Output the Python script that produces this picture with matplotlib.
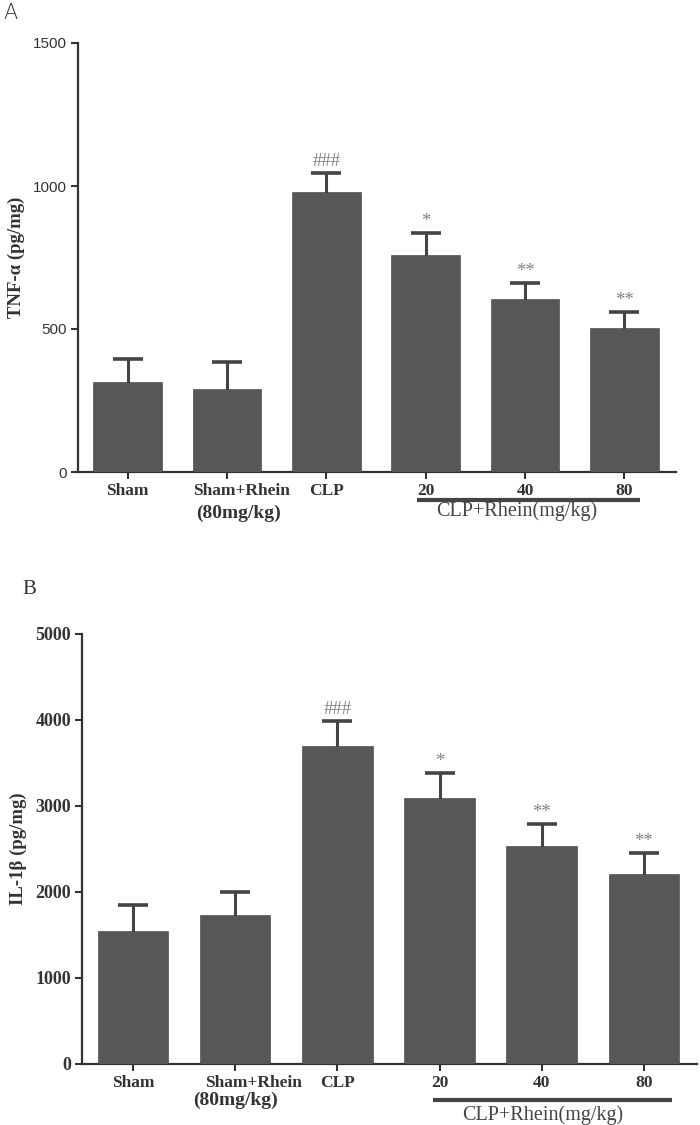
import numpy as np
import matplotlib
matplotlib.use("Agg")
import matplotlib.pyplot as plt
import matplotlib.transforms as mtransforms

# group labels
groups = ["Sham", "Sham+Rhein", "CLP", "20", "40", "80"]

# panel A: TNF-alpha
tnf_mean = [315, 290, 979, 759, 605, 503]
tnf_err = [80, 95, 66, 77, 56, 56]
tnf_marks = ["", "", "###", "*", "**", "**"]
tnf_ticks = [0, 500, 1000, 1500]

# panel B: IL-1beta
il_mean = [1547, 1733, 3698, 3093, 2535, 2209]
il_err = [302, 267, 290, 291, 256, 244]
il_marks = ["", "", "###", "*", "**", "**"]
il_ticks = [0, 1000, 2000, 3000, 4000, 5000]

BAR = "#575757"
DARK = "#3a3a3a"
SERIF = "Liberation Serif"
SANS = "Liberation Sans"

fig = plt.figure(figsize=(7, 11.25), dpi=100)


def draw_panel(ax, means, errs, marks, yticks, ylabel, tick_font, tick_weight,
               tick_size, sub_pos, brk_y, brk_x, brk_text, shift_px, mark_gap):
    x = np.arange(len(groups))
    ax.bar(x, means, width=0.69, color=BAR, edgecolor=DARK, linewidth=0.4, zorder=3)
    # symmetric bars drawn under the columns, so only the upper half shows
    ax.errorbar(x, means, yerr=errs, fmt="none", ecolor="#444444",
                elinewidth=2.2, capsize=10.5, capthick=2.6, zorder=2)
    for xi, m, e, s in zip(x, means, errs, marks):
        if s:
            ax.annotate(s, (xi, m + e), xytext=(0, mark_gap), textcoords="offset points",
                        ha="center", va="bottom", fontsize=13.5, color="#808080",
                        family=SERIF)
    ax.set_xlim(-0.5, 5.52)
    ax.set_ylim(0, yticks[-1])
    ax.set_yticks(yticks)
    ax.set_yticklabels([str(t) for t in yticks], family=tick_font,
                       fontweight=tick_weight, fontsize=tick_size, color="#333333")
    ax.set_xticks(x)
    labels = list(groups)
    labels[1] = ""
    ax.set_xticklabels(labels, family=SERIF, fontweight="bold", fontsize=12.5,
                       color="#333333")
    for s in ["top", "right"]:
        ax.spines[s].set_visible(False)
    for s in ["left", "bottom"]:
        ax.spines[s].set_linewidth(1.6)
        ax.spines[s].set_color("#333333")
    ax.tick_params(axis="both", length=5, width=1.5, color="#333333", pad=3)
    ax.set_ylabel(ylabel, family=SERIF, fontweight="bold", fontsize=13.5,
                  color="#333333", labelpad=6)

    # second label sits a little right of its tick
    off = mtransforms.offset_copy(ax.get_xaxis_transform(), fig=fig,
                                  x=shift_px, y=-11, units="dots")
    ax.text(1, 0, "Sham+Rhein", transform=off, ha="center", va="top",
            family=SERIF, fontweight="bold", fontsize=12.5, color="#333333",
            clip_on=False)
    ax.text(sub_pos[0], sub_pos[1], "(80mg/kg)", transform=ax.get_xaxis_transform(),
            ha="center", va="center", family=SERIF, fontweight="bold",
            fontsize=14, color="#333333", clip_on=False)
    ax.plot(brk_x, [brk_y, brk_y], transform=ax.get_xaxis_transform(),
            color="#444444", lw=3, clip_on=False, solid_capstyle="butt")
    ax.text(brk_text[0], brk_text[1], "CLP+Rhein(mg/kg)",
            transform=ax.get_xaxis_transform(), ha="center", va="center",
            family=SERIF, fontsize=14.5, color="#444444", clip_on=False)


# panel A
axA = fig.add_axes([78 / 700, 1 - 472 / 1125, (676 - 78) / 700, (472 - 43) / 1125])
draw_panel(axA, tnf_mean, tnf_err, tnf_marks, tnf_ticks, "TNF-\u03b1 (pg/mg)",
           SANS, "normal", 11, (1.12, -0.096), -0.065, [2.91, 5.16], (3.92, -0.091), 14, 2)
fig.text(3 / 700, 1 - 13 / 1125, "A", family="DejaVu Sans", fontweight="light",
         fontsize=15, color="#333333", ha="left", va="center")

# panel B
axB = fig.add_axes([82 / 700, 1 - 1064 / 1125, (697 - 82) / 700, (1064 - 634) / 1125])
draw_panel(axB, il_mean, il_err, il_marks, il_ticks, "IL-1\u03b2 (pg/mg)",
           SERIF, "bold", 13, (1.0, -0.084), -0.084, [2.94, 5.28], (4.01, -0.119), 18, 2.5)
fig.text(22 / 700, 1 - 590 / 1125, "B", family=SERIF, fontsize=15,
         color="#333333", ha="left", va="center")

fig.savefig("out.png", dpi=100)
